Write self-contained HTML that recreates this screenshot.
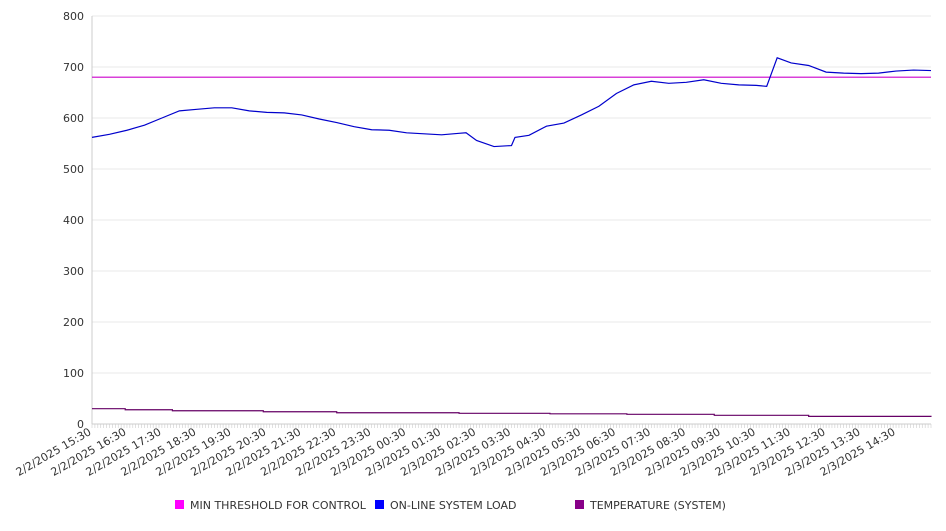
<!DOCTYPE html>
<html><head><meta charset="utf-8"><style>
body{margin:0;background:#fff;font-family:"Liberation Sans","DejaVu Sans",sans-serif}
svg text{font-family:"DejaVu Sans","Liberation Sans",sans-serif;font-size:11px;fill:#333}
</style></head><body>
<svg width="946" height="526" id="c"></svg>
<script>
const loadHours=[0,0.5,1,1.5,2,2.5,3,3.5,4,4.5,5,5.5,6,6.5,7,7.5,8,8.5,9,9.5,10,10.5,10.7,11,11.5,12,12.1,12.5,13,13.5,14,14.5,15,15.5,16,16.5,17,17.5,18,18.5,19,19.3,19.6,20,20.5,21,21.5,22,22.5,23,23.5,24];
const loadValues=[562,568,576,586,600,614,617,620,620,614,611,610,606,598,591,583,577,576,571,569,567,570,571,556,544,546,562,566,584,590,606,623,648,665,672,668,670,675,668,665,664,662,718,708,703,690,688,687,688,692,694,693];
const tempHours=[0,0.95,2.3,4.9,7,10.5,13.1,15.3,17.8,20.5,24];
const tempValues=[30,28,26,24,22,21,20,19,17,15,14];
const threshold=680;
const yTicks=[0,100,200,300,400,500,600,700,800];
const xLabels=["2/2/2025 15:30","2/2/2025 16:30","2/2/2025 17:30","2/2/2025 18:30","2/2/2025 19:30","2/2/2025 20:30","2/2/2025 21:30","2/2/2025 22:30","2/2/2025 23:30","2/3/2025 00:30","2/3/2025 01:30","2/3/2025 02:30","2/3/2025 03:30","2/3/2025 04:30","2/3/2025 05:30","2/3/2025 06:30","2/3/2025 07:30","2/3/2025 08:30","2/3/2025 09:30","2/3/2025 10:30","2/3/2025 11:30","2/3/2025 12:30","2/3/2025 13:30","2/3/2025 14:30"];
const svg=document.getElementById('c');const NS='http://www.w3.org/2000/svg';
const L=92,R=931,T=16,B=424;
const x=h=>L+h*(R-L)/24, y=v=>B-v*(B-T)/800;
function mk(t,a){const e=document.createElementNS(NS,t);for(const k in a)e.setAttribute(k,a[k]);svg.appendChild(e);return e;}
yTicks.forEach(v=>{
 const g=mk('line',{x1:L,x2:R,y1:y(v),y2:y(v),stroke:v?'#e8e8e8':'#ccc'});
 
 
 const t=mk('text',{x:84,y:y(v)+4,'text-anchor':'end'});t.textContent=v;
 
 
});
const ax=mk('line',{x1:L,x2:L,y1:T,y2:B,stroke:'#ccc'});


for(let i=0;i<=288;i++){const xx=x(i/12);mk('line',{x1:xx,x2:xx,y1:B,y2:B+4,stroke:'#ccc','stroke-width':0.6});}
xLabels.forEach((s,i)=>{const xx=x(i);const t=mk('text',{x:xx,y:B+10,'text-anchor':'end',transform:`rotate(-30 ${xx} ${B+10})`});t.textContent=s;
 
 });
const th=mk('line',{x1:L,x2:R,y1:y(threshold),y2:y(threshold),stroke:'#cc00cc','stroke-width':1.2});


const lp=mk('polyline',{points:loadHours.map((h,i)=>x(h)+','+y(loadValues[i])).join(' '),fill:'none',stroke:'#0000cc','stroke-width':1.2});


let pts=[];tempHours.forEach((h,i)=>{if(i>0)pts.push(x(h)+','+y(tempValues[i-1]));pts.push(x(h)+','+y(tempValues[i]));});
const tp=mk('polyline',{points:pts.join(' '),fill:'none',stroke:'#660066','stroke-width':1.2});


[["MIN THRESHOLD FOR CONTROL","#ff00ff",175],["ON-LINE SYSTEM LOAD","#0000ff",375],["TEMPERATURE (SYSTEM)","#880088",575]].forEach(([s,c,lx])=>{
 const r=mk('rect',{x:lx,y:500,width:9,height:9,fill:c});
 
 
 const t=mk('text',{x:lx+15,y:509});t.textContent=s;
 
 
});
</script>
</body></html>
